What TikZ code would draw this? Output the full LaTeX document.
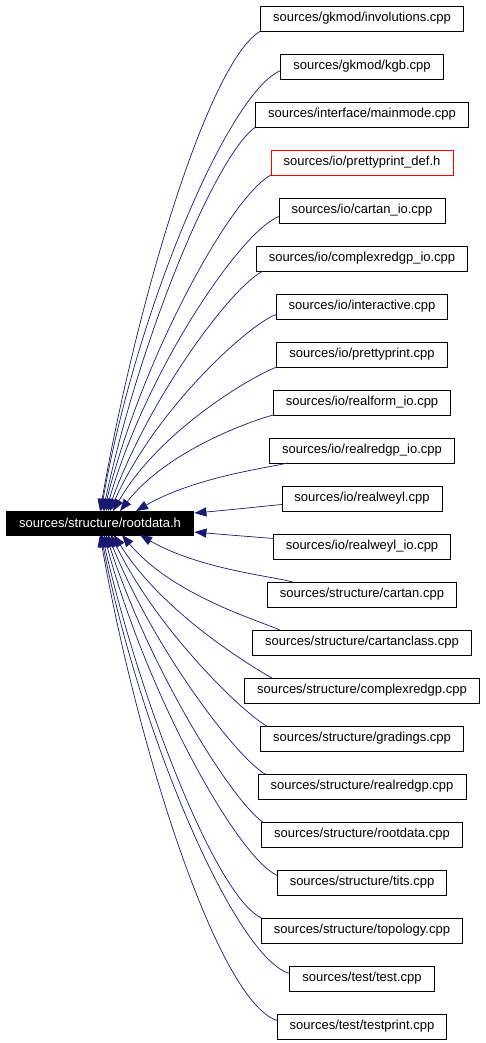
\documentclass[tikz,border=0pt]{standalone}
\usepackage{fontspec}
\setmainfont{Liberation Sans}
\usepackage[svgnames]{xcolor}
\usepackage{tikz}
\usetikzlibrary{positioning, arrows.meta}

\begin{document}
\begin{tikzpicture}[x=1pt, y=1pt, node distance=23pt,
   every node/.style={font=\fontsize{13}{15}\selectfont},
   src/.style={draw, line width=0.8pt, minimum height=25pt, inner xsep=12.5pt, inner ysep=0pt, outer sep=0pt},
   hdr/.style={src, draw=red},
   cur/.style={src, fill=black, text=white, minimum height=24pt},
   dep/.style={-{Triangle[length=12pt, width=9pt]}, draw=MidnightBlue, line width=0.7pt, out looseness=0.3, in looseness=1.1}]
  \useasboundingbox (0,0) rectangle (485,-1043);
  \node[cur] (rd) at (100,-523) {sources/structure/rootdata.h};
  \node[src] (inv) at (362,-18.5) {sources/gkmod/involutions.cpp};
  \node[src, below=of inv] (kgb) {sources/gkmod/kgb.cpp};
  \node[src, below=of kgb] (mmode) {sources/interface/mainmode.cpp};
  \node[hdr, below=of mmode] (ppdef) {sources/io/prettyprint\_def.h};
  \node[src, below=of ppdef] (cartio) {sources/io/cartan\_io.cpp};
  \node[src, below=of cartio] (cxio) {sources/io/complexredgp\_io.cpp};
  \node[src, below=of cxio] (inter) {sources/io/interactive.cpp};
  \node[src, below=of inter] (pp) {sources/io/prettyprint.cpp};
  \node[src, below=of pp] (rfio) {sources/io/realform\_io.cpp};
  \node[src, below=of rfio] (rrio) {sources/io/realredgp\_io.cpp};
  \node[src, below=of rrio] (rw) {sources/io/realweyl.cpp};
  \node[src, below=of rw] (rwio) {sources/io/realweyl\_io.cpp};
  \node[src, below=of rwio] (cart) {sources/structure/cartan.cpp};
  \node[src, below=of cart] (cclass) {sources/structure/cartanclass.cpp};
  \node[src, below=of cclass] (cx) {sources/structure/complexredgp.cpp};
  \node[src, below=of cx] (grad) {sources/structure/gradings.cpp};
  \node[src, below=of grad] (rr) {sources/structure/realredgp.cpp};
  \node[src, below=of rr] (rdcpp) {sources/structure/rootdata.cpp};
  \node[src, below=of rdcpp] (tits) {sources/structure/tits.cpp};
  \node[src, below=of tits] (topo) {sources/structure/topology.cpp};
  \node[src, below=of topo] (test) {sources/test/test.cpp};
  \node[src, below=of test] (tprint) {sources/test/testprint.cpp};
  % every file that includes rootdata.h
  \foreach \s/\sa/\sx/\sy/\oa/\ta/\tx/\ty/\ia in {
     inv/south west/0/0/210/north/0/0/80,
     kgb/west/0/-4/202/north/1/0/80,
     mmode/south west/0/0/215/north/3/0/78,
     ppdef/south west/0/0/207/north/4/0/76,
     cartio/west/0/-6/200/north/6/0/74,
     cxio/south west/7/0/205/north/8/0/70,
     inter/west/0/-8/200/north/10/0/66,
     pp/south west/0/0/200/north/13/0/60,
     rfio/south west/0/0/195/north/20/0/52,
     rrio/south west/18/0/194/north/36/0/30,
     rw/west/0/-6/185/east/1/10/5,
     rwio/west/0/8/175/east/1/-9/-5,
     cart/north west/25/0/163/south/40/0/-30,
     cclass/north west/27/0/155/south/22/0/-50,
     cx/north west/27/0/150/south/14/0/-58,
     grad/north west/6/0/150/south/11/0/-64,
     rr/north west/7/0/150/south/8/0/-68,
     rdcpp/north west/1/0/145/south/6/0/-72,
     tits/west/0/7/155/south/4/0/-75,
     topo/north west/0/0/155/south/2/0/-77,
     test/west/0/5/165/south/1/0/-79,
     tprint/west/0/6/163/south/0/0/-80}
    \draw[dep] ([xshift=\sx pt, yshift=\sy pt]\s.\sa) to[out=\oa, in=\ia] ([xshift=\tx pt, yshift=\ty pt]rd.\ta);
\end{tikzpicture}
\end{document}
